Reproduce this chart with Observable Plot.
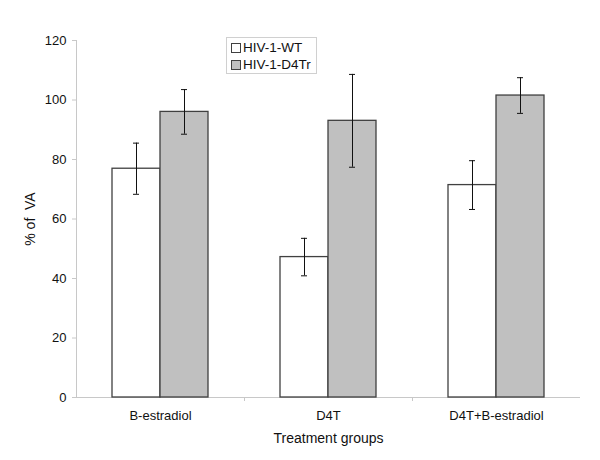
<!DOCTYPE html>
<html>
<head>
<meta charset="utf-8">
<script src="https://cdn.jsdelivr.net/npm/d3@7"></script>
<script src="https://cdn.jsdelivr.net/npm/@observablehq/plot@0.6"></script>
<style>
  body { margin: 0; background: #fff; }
  #wrap { position: relative; width: 600px; height: 460px; font-family: "Liberation Sans", Arial, sans-serif; }
  #legend { position: absolute; left: 226px; top: 37px; width: 91px; height: 37px; border: 1px solid #d0d0d0; background: #fff; font-size: 13.5px; line-height: 16px; color: #111; padding-top: 1px; box-sizing: border-box; white-space: nowrap; }
  #legend div { display: flex; align-items: center; height: 17px; padding-left: 4px; }
  #legend span.sw { display: inline-block; flex: none; width: 8px; height: 8px; border: 1px solid #404040; margin-right: 2px; }
  g[aria-label="y-axis label"] text, g[aria-label="x-axis label"] text { font-size: 14px; }
</style>
</head>
<body>
<div id="wrap"><div id="legend"></div></div>
<script>
const categories = ["B-estradiol", "D4T", "D4T+B-estradiol"];
const series = ["HIV-1-WT", "HIV-1-D4Tr"];
const wtValues = [76.9, 47.2, 71.4];
const wtErrors = [8.6, 6.3, 8.2];
const d4trValues = [96.0, 93.0, 101.5];
const d4trErrors = [7.5, 15.6, 6.0];
const yTicks = [0, 20, 40, 60, 80, 100, 120];
const seriesFill = ["#ffffff", "#c0c0c0"];

const rows = [];
categories.forEach((c, i) => {
  rows.push({cat: c, s: series[0], v: wtValues[i], e: wtErrors[i]});
  rows.push({cat: c, s: series[1], v: d4trValues[i], e: d4trErrors[i]});
});
const wt = rows.filter(d => d.s === series[0]);
const dr = rows.filter(d => d.s === series[1]);

const font = "Liberation Sans, Arial, sans-serif";
const chart = Plot.plot({
  width: 600,
  height: 460,
  marginLeft: 76,
  marginRight: 20,
  marginTop: 40,
  marginBottom: 63,
  style: {fontFamily: font, fontSize: "13px", color: "#111", background: "#fff"},
  x: {domain: categories, padding: 0},
  y: {domain: [0, 120], ticks: yTicks},
  marks: [
    Plot.ruleY([0], {stroke: "#c8c8c8"}),
    Plot.frame({anchor: "left", stroke: "#c8c8c8"}),
    Plot.axisY({ticks: yTicks, tickSize: 4, tickPadding: 6, stroke: "#c8c8c8", label: "% of  VA", labelAnchor: "center", labelArrow: "none", labelOffset: 51, fill: "#111", fontSize: 13}),
    Plot.axisX({tickSize: 0, tickPadding: 13, label: "Treatment groups", labelAnchor: "center", labelArrow: "none", labelOffset: 45, fill: "#111", fontSize: 13}),
    Plot.axisX({ticks: categories.slice(1), tickSize: 4, tickFormat: () => "", dx: -84, label: null, stroke: "#c8c8c8"}),
    Plot.barY(wt, {x: "cat", y: "v", fill: seriesFill[0], stroke: "#404040", strokeWidth: 1.3, insetLeft: 36, insetRight: 84}),
    Plot.barY(dr, {x: "cat", y: "v", fill: seriesFill[1], stroke: "#404040", strokeWidth: 1.3, insetLeft: 84, insetRight: 36}),
    Plot.ruleX(wt, {x: "cat", dx: -24, y1: d => d.v - d.e, y2: d => d.v + d.e, stroke: "#111", strokeWidth: 1}),
    Plot.ruleX(dr, {x: "cat", dx: 24, y1: d => d.v - d.e, y2: d => d.v + d.e, stroke: "#111", strokeWidth: 1}),
    Plot.tickY(wt, {x: "cat", y: d => d.v + d.e, insetLeft: 57, insetRight: 105, stroke: "#111"}),
    Plot.tickY(wt, {x: "cat", y: d => d.v - d.e, insetLeft: 57, insetRight: 105, stroke: "#111"}),
    Plot.tickY(dr, {x: "cat", y: d => d.v + d.e, insetLeft: 105, insetRight: 57, stroke: "#111"}),
    Plot.tickY(dr, {x: "cat", y: d => d.v - d.e, insetLeft: 105, insetRight: 57, stroke: "#111"})
  ]
});
const wrap = document.getElementById("wrap");
wrap.insertBefore(chart, wrap.firstChild);
const legend = document.getElementById("legend");
series.forEach((s, i) => {
  const row = document.createElement("div");
  row.innerHTML = `<span class="sw" style="background:${seriesFill[i]}"></span><span>${s}</span>`;
  legend.appendChild(row);
});
</script>
</body>
</html>
